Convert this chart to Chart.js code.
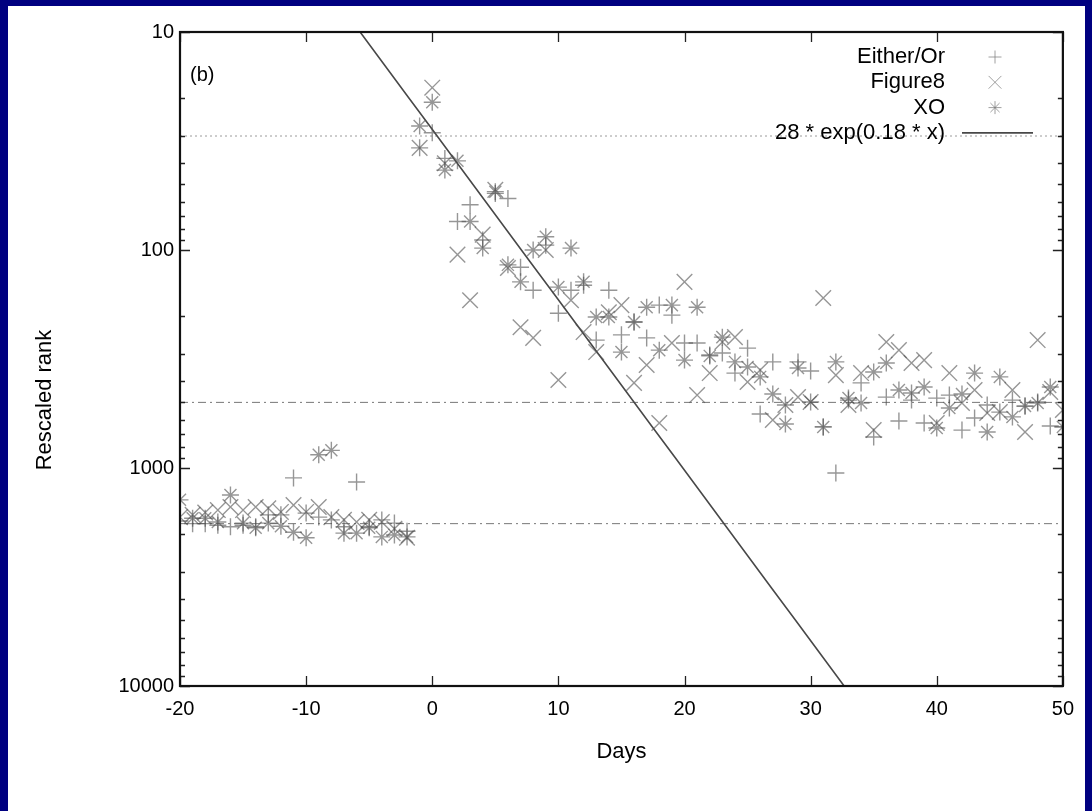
<!DOCTYPE html>
<html>
<head>
<meta charset="utf-8">
<script src="https://cdn.jsdelivr.net/npm/chart.js@4.4.1/dist/chart.umd.min.js"></script>
<style>
  html, body { margin: 0; padding: 0; background: #000080; overflow: hidden; }
  #frame { position: absolute; left: 8px; top: 6px; width: 1077px; height: 805px; background: #fff; }
  canvas { display: block; }
</style>
</head>
<body>
<div id="frame"><canvas id="myChart" width="1077" height="805"></canvas></div>
<script>
// days relative to release, -20 .. 50
let days = [-20,-19,-18,-17,-16,-15,-14,-13,-12,-11,-10,-9,-8,-7,-6,-5,-4,-3,-2,
  -1,0,1,2,3,4,5,6,7,8,9,10,11,12,13,14,15,16,17,18,19,20,21,22,23,24,25,26,27,28,29,30,
  31,32,33,34,35,36,37,38,39,40,41,42,43,44,45,46,47,48,49,50];

let eitherOr = [1750,1800,1800,1830,1860,1830,1860,1640,1640,1110,1610,1680,1730,1860,1160,1860,1730,1790,1950,
  34,29,38,74,62,90,55,58,120,153,95,195,153,145,259,153,245,214,253,179,199,267,267,303,297,367,282,565,326,514,326,359,
  648,1054,488,407,721,473,609,488,622,478,463,670,590,514,554,488,520,498,642,648];

let figure8 = [1680,1640,1600,1560,1510,1560,1510,1530,1590,1480,1590,1510,1680,1730,1770,1730,1770,1900,2090,
  34,18,40,105,170,85,53,121,226,253,100,395,170,238,294,193,179,407,337,622,267,140,463,367,264,251,403,355,602,514,473,498,
  166,375,514,367,670,264,288,330,320,622,367,503,439,559,554,439,684,259,448,542];

let xo = [1400,1700,1700,1770,1330,1790,1880,1790,1850,1970,2090,870,830,1990,1990,1880,2070,2030,2070,
  27,21,43,39,74,98,54,117,140,100,87,148,98,140,203,203,294,214,183,288,179,320,183,306,251,326,344,382,458,628,348,498,
  648,326,478,503,363,330,439,453,425,655,531,458,367,684,382,583,520,503,425,648];

// fitted curve from the legend: 28 * exp(0.18 * x)
let fitA = 28;
let fitB = 0.18;
let dottedLevels = [30];
let dashDotLevels = [500, 1800];

let xTicks = [-20, -10, 0, 10, 20, 30, 40, 50];
let yTicks = [10, 100, 1000, 10000];

const FONT = 'Liberation Sans, Arial, sans-serif';
const markColor = 'rgba(80,80,80,0.6)';

let toPoints = (vals) => days.map((d, i) => ({x: d, y: vals[i]}));

let fitPoints = [];
let xStart = Math.log(10 / fitA) / fitB;
let xEnd = Math.log(10000 / fitA) / fitB;
for (let i = 0; i <= 20; i++) {
  let xv = xStart + (xEnd - xStart) * i / 20;
  fitPoints.push({x: xv, y: fitA * Math.exp(fitB * xv)});
}

function levelLine(v, dash, color) {
  return {
    type: 'line', label: '', data: [{x: -20, y: v}, {x: 50, y: v}],
    borderColor: color, borderWidth: 1, borderDash: dash, pointRadius: 0,
    showLine: true, hideLegend: true, order: 5
  };
}

function markSet(label, vals, style, r) {
  return {
    label: label, data: toPoints(vals), showLine: false,
    pointStyle: style, pointRadius: r, pointBorderWidth: 1.4,
    borderColor: markColor, backgroundColor: markColor, order: 1
  };
}

// inward tick marks, plot frame, axis title, panel tag and legend
const framePlugin = {
  id: 'framePlugin',
  afterDraw(chart) {
    let {ctx, chartArea: a, scales: {x, y}} = chart;
    ctx.save();
    ctx.strokeStyle = '#222';
    ctx.lineWidth = 1.3;
    ctx.beginPath();
    for (let dec of [10, 100, 1000]) {
      for (let k = 1; k <= 10; k++) {
        let py = Math.round(y.getPixelForValue(dec * k)) + 0.5;
        let len = (k === 1 || k === 10) ? 10 : 5;
        ctx.moveTo(a.left, py); ctx.lineTo(a.left + len, py);
        ctx.moveTo(a.right, py); ctx.lineTo(a.right - len, py);
      }
    }
    for (let t of xTicks) {
      let px = Math.round(x.getPixelForValue(t)) + 0.5;
      ctx.moveTo(px, a.bottom); ctx.lineTo(px, a.bottom - 10);
      ctx.moveTo(px, a.top); ctx.lineTo(px, a.top + 10);
    }
    ctx.stroke();
    ctx.strokeStyle = '#111';
    ctx.lineWidth = 2.2;
    ctx.strokeRect(a.left, a.top, a.width, a.height);

    ctx.fillStyle = '#000';
    ctx.font = '22px ' + FONT;
    ctx.textAlign = 'center';
    ctx.textBaseline = 'middle';
    ctx.save();
    ctx.translate(37, 394);
    ctx.rotate(-Math.PI / 2);
    ctx.fillText('Rescaled rank', 0, 0);
    ctx.restore();

    ctx.font = '20px ' + FONT;
    ctx.textAlign = 'left';
    ctx.fillText('(b)', a.left + 10, a.top + 43);

    // legend
    ctx.font = '22px ' + FONT;
    ctx.textAlign = 'right';
    let rowY = a.top + 25;
    chart.data.datasets.forEach(ds => {
      if (ds.hideLegend) return;
      ctx.fillStyle = '#000';
      ctx.fillText(ds.label, a.left + 765, rowY);
      let sx = a.left + 815;
      ctx.strokeStyle = ds.borderColor;
      if (ds.showLine) {
        ctx.lineWidth = ds.borderWidth;
        ctx.beginPath(); ctx.moveTo(sx - 33, rowY); ctx.lineTo(sx + 38, rowY); ctx.stroke();
      } else {
        ctx.strokeStyle = 'rgba(120,120,120,0.7)';
        ctx.lineWidth = 1;
        let lr = ds.pointStyle === 'crossRot' ? 9 : 6.5;
        Chart.helpers.drawPoint(ctx, {pointStyle: ds.pointStyle, radius: lr, borderWidth: 1, rotation: 0}, sx, rowY);
      }
      rowY += 25.3;
    });
    ctx.restore();
  }
};

let ctx = document.getElementById('myChart').getContext('2d');
let myChart = new Chart(ctx, {
  type: 'scatter',
  data: {
    datasets: [
      markSet('Either/Or', eitherOr, 'cross', 8.5),
      markSet('Figure8', figure8, 'crossRot', 11),
      markSet('XO', xo, 'star', 8.5),
      {
        type: 'line', label: '28 * exp(0.18 * x)', data: fitPoints,
        borderColor: '#484848', borderWidth: 1.6, pointRadius: 0, showLine: true, order: 2
      },
      ...dottedLevels.map(v => levelLine(v, [2, 3], '#9a9a9a')),
      ...dashDotLevels.map(v => levelLine(v, [8, 4, 2, 4], '#777'))
    ]
  },
  options: {
    responsive: false,
    animation: false,
    layout: { padding: {top: 26, right: 21, left: 0, bottom: 0} },
    plugins: {
      legend: { display: false },
      tooltip: { enabled: false }
    },
    scales: {
      x: {
        type: 'linear', min: -20, max: 50,
        afterBuildTicks: (s) => { s.ticks = xTicks.map(v => ({value: v})); },
        afterFit: (s) => { s.height = 125; },
        grid: { display: false, drawTicks: false },
        border: { display: false },
        ticks: { color: '#000', font: {family: FONT, size: 20}, padding: 11, autoSkip: false, maxRotation: 0 },
        title: { display: true, text: 'Days', color: '#000', font: {family: FONT, size: 22}, padding: {top: 0, bottom: 46} }
      },
      y: {
        type: 'logarithmic', reverse: true, min: 10, max: 10000,
        afterBuildTicks: (s) => { s.ticks = yTicks.map(v => ({value: v})); },
        afterFit: (s) => { s.width = 172; },
        grid: { display: false, drawTicks: false },
        border: { display: false },
        ticks: { color: '#000', font: {family: FONT, size: 20}, padding: 6, callback: (v) => String(v) },
        title: { display: false }
      }
    }
  },
  plugins: [framePlugin]
});
</script>
</body>
</html>
